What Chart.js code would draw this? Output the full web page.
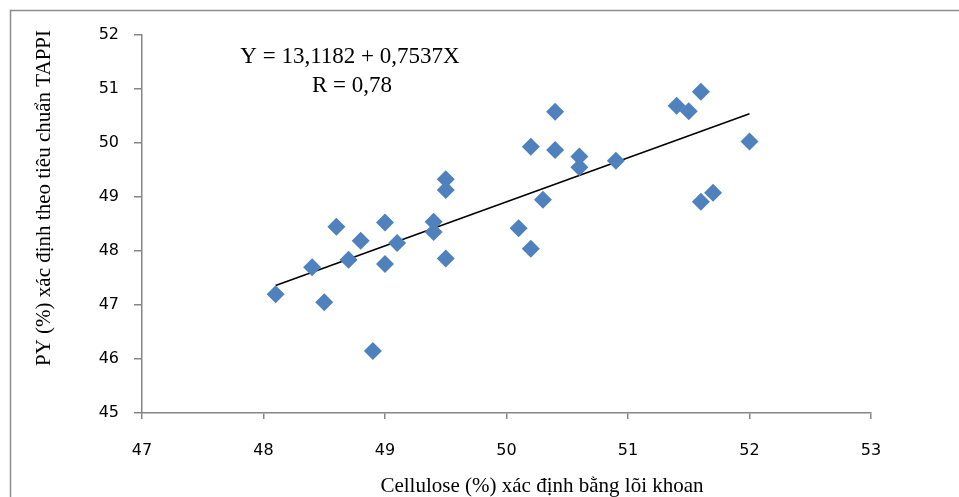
<!DOCTYPE html>
<html lang="vi">
<head>
    <meta charset="UTF-8">
    <title>PY vs Cellulose</title>
    <script src="https://cdn.jsdelivr.net/npm/chart.js"></script>
    <style>
        body {
            margin: 0;
            background: white;
        }
        #chart-container {
            width: 959px;
            height: 497px;
        }
    </style>
</head>
<body>
    <div id="chart-container">
        <canvas id="chart"></canvas>
    </div>

    <script>
        // Cellulose (%) measured from core samples
        const cellulose = [
            48.1, 48.4, 48.5, 48.6, 48.7, 48.8, 48.9, 49.0, 49.0, 49.1,
            49.4, 49.4, 49.5, 49.5, 49.5, 50.1, 50.2, 50.3, 50.4, 50.2,
            50.4, 50.6, 50.6, 50.9, 51.4, 51.5, 51.6, 52.0, 51.6, 51.7
        ];
        // PY (%) by TAPPI standard
        const py = [
            47.20, 47.70, 47.05, 48.45, 47.84, 48.19, 46.15, 48.53, 47.76, 48.15,
            48.54, 48.35, 49.33, 49.13, 47.86, 48.42, 48.04, 48.95, 50.58, 49.93,
            49.87, 49.75, 49.55, 49.67, 50.69, 50.59, 50.95, 50.03, 48.91, 49.08
        ];
        // trend line end points as drawn
        const trendX = [48.1, 52.0];
        const trendY = [47.36, 50.54];

        const xMin = 47, xMax = 53;
        const yMin = 45, yMax = 52;

        const equationLines = ['Y = 13,1182 + 0,7537X', 'R = 0,78'];
        const xTitle = 'Cellulose (%) xác định bằng lõi khoan';
        const yTitle = 'PY (%) xác định theo tiêu chuẩn TAPPI';

        const axisColor = '#868686';
        const tickFont = { family: "'DejaVu Sans', sans-serif", size: 16 };

        // frame, equation and axis titles
        const decorations = {
            id: 'decorations',
            afterDraw(chart) {
                const c = chart.ctx;
                c.save();
                c.strokeStyle = '#8c8c8c';
                c.lineWidth = 1.5;
                c.strokeRect(10.5, 10.5, 1200, 1200);

                c.fillStyle = '#000';
                c.textAlign = 'center';
                c.textBaseline = 'middle';
                c.font = '23px "Liberation Serif"';
                c.fillText(equationLines[0], 350, 57);
                c.fillText(equationLines[1], 352, 86);

                c.font = '21px "Liberation Serif"';
                c.fillText(xTitle, 542, 486);

                c.translate(44, 198);
                c.rotate(-Math.PI / 2);
                c.fillText(yTitle, 0, 0);
                c.restore();
            }
        };

        const ctx = document.getElementById('chart').getContext('2d');
        const chart = new Chart(ctx, {
            type: 'scatter',
            data: {
                datasets: [
                    {
                        label: 'PY',
                        data: cellulose.map((x, i) => ({ x: x, y: py[i] })),
                        pointStyle: 'rectRot',
                        pointRadius: 9,
                        pointHoverRadius: 9,
                        backgroundColor: '#4f81bd',
                        borderColor: '#4f81bd',
                        borderWidth: 0
                    },
                    {
                        label: 'Trend',
                        type: 'line',
                        data: trendX.map((x, i) => ({ x: x, y: trendY[i] })),
                        borderColor: '#000',
                        borderWidth: 1.6,
                        pointRadius: 0,
                        fill: false
                    }
                ]
            },
            options: {
                responsive: true,
                maintainAspectRatio: false,
                animation: false,
                layout: {
                    padding: { top: 35, right: 88, left: 0, bottom: 0 }
                },
                plugins: {
                    legend: { display: false },
                    tooltip: { enabled: false }
                },
                scales: {
                    x: {
                        type: 'linear',
                        min: xMin,
                        max: xMax,
                        afterFit: s => { s.height = 84; },
                        border: { color: axisColor, width: 1.5 },
                        grid: {
                            drawOnChartArea: false,
                            tickLength: 6,
                            color: axisColor,
                            lineWidth: 1.5
                        },
                        ticks: {
                            stepSize: 1,
                            padding: 22,
                            color: '#000',
                            font: tickFont
                        }
                    },
                    y: {
                        min: yMin,
                        max: yMax,
                        afterFit: s => { s.width = 142; },
                        border: { color: axisColor, width: 1.5 },
                        grid: {
                            drawOnChartArea: false,
                            tickLength: 8,
                            color: axisColor,
                            lineWidth: 1.5
                        },
                        ticks: {
                            stepSize: 1,
                            padding: 15,
                            color: '#000',
                            font: tickFont
                        }
                    }
                }
            },
            plugins: [decorations]
        });
    </script>
</body>
</html>
